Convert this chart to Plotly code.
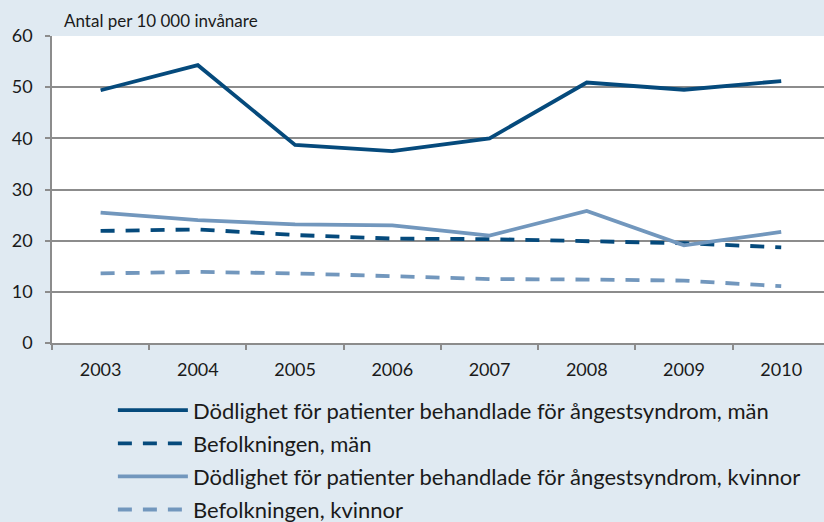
import plotly.graph_objects as go

years = ["2003", "2004", "2005", "2006", "2007", "2008", "2009", "2010"]
men_patients = [49.4, 54.3, 38.7, 37.5, 40.0, 50.9, 49.5, 51.2]
men_population = [21.9, 22.2, 21.1, 20.4, 20.3, 19.9, 19.5, 18.7]
women_patients = [25.5, 24.0, 23.2, 23.0, 21.0, 25.8, 19.1, 21.7]
women_population = [13.6, 13.9, 13.6, 13.1, 12.5, 12.4, 12.2, 11.1]

names = [
    "Dödlighet för patienter behandlade för ångestsyndrom, män",
    "Befolkningen, män",
    "Dödlighet för patienter behandlade för ångestsyndrom, kvinnor",
    "Befolkningen, kvinnor",
]
y_title = "Antal per 10 000 invånare"

dark = "#054a7c"
light = "#7297bd"
bg = "#e0eaf2"
grid = "#8c8c8c"
font_family = "Lato, 'Open Sans', sans-serif"

series = [
    (names[0], men_patients, dark, "solid"),
    (names[1], men_population, dark, "14px,11px"),
    (names[2], women_patients, light, "solid"),
    (names[3], women_population, light, "14px,11px"),
]

fig = go.Figure()
for i, (name, vals, color, dash) in enumerate(series):
    fig.add_trace(go.Scatter(
        x=years, y=vals, name=name, mode="lines",
        line=dict(color=color, width=3.8, dash=dash),
        legendgroup=str(i),
    ))

fig.update_layout(
    width=824, height=522,
    paper_bgcolor=bg, plot_bgcolor="white",
    margin=dict(l=52, r=0, t=36, b=179, autoexpand=False),
    font=dict(family=font_family, color="#1a1a1a", size=18),
    showlegend=True,
    legend=dict(
        xref="container", yref="container",
        x=0.137, y=0.254, xanchor="left", yanchor="top",
        bgcolor="rgba(0,0,0,0)", tracegroupgap=1.5,
        font=dict(size=22, family=font_family),
        itemwidth=70,
    ),
    xaxis=dict(
        type="category", range=[-0.5, 7.44], automargin=False,
        showgrid=False, showline=True, linecolor=grid, linewidth=1.5,
        ticks="outside", tickson="boundaries", ticklen=5, tickcolor=grid, tickwidth=1.5,
        tickfont=dict(size=18), ticklabelstandoff=10, fixedrange=True,
    ),
    yaxis=dict(
        range=[0, 60], dtick=10, showgrid=True, gridcolor=grid, gridwidth=1.5,
        showline=True, linecolor=grid, linewidth=1.5, automargin=False,
        ticks="outside", ticklen=5, tickcolor=grid, tickwidth=1.5,
        tickfont=dict(size=18), ticklabelstandoff=9, zeroline=False, fixedrange=True,
    ),
    annotations=[dict(
        text=y_title, xref="paper", yref="paper", x=0.013, y=1.0, yshift=3,
        xanchor="left", yanchor="bottom", showarrow=False,
        font=dict(size=17, family=font_family),
    )],
)

fig.write_html(
    "out.html",
    config={"displayModeBar": False},
    post_script="document.body.style.margin='0';document.body.style.overflow='hidden';",
)
